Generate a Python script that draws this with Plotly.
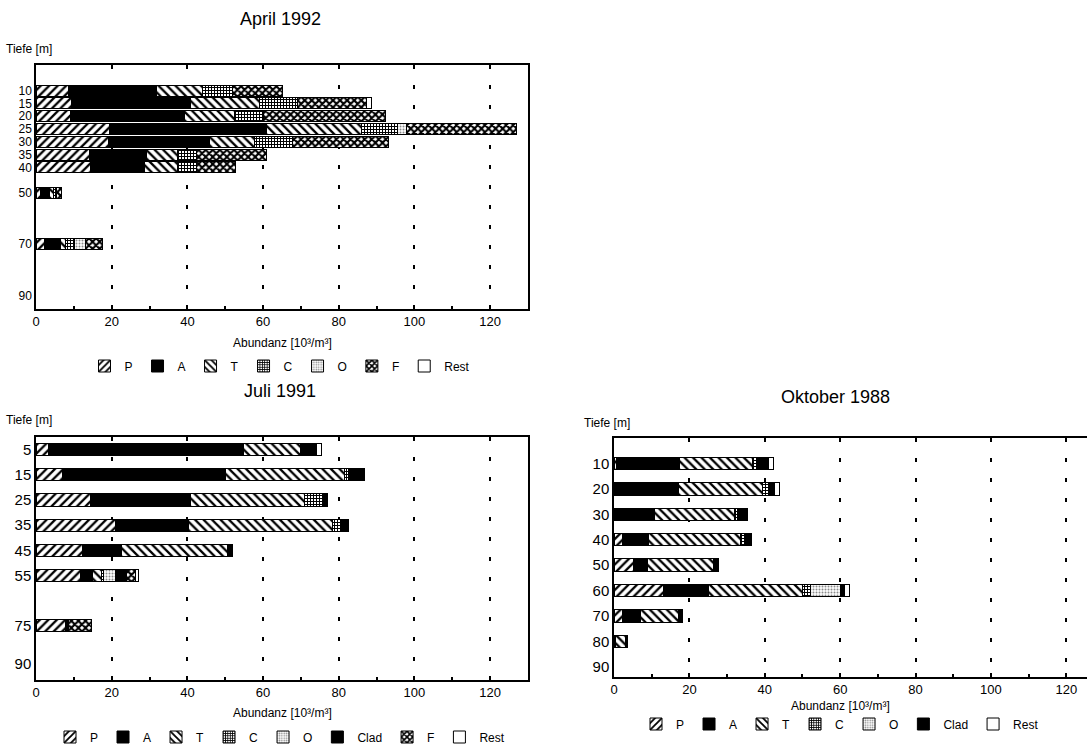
import plotly.graph_objects as go

W, H = 1087, 746
FONT = "Liberation Sans, Arial, Helvetica, sans-serif"

# ---------------- April 1992 (depth in m, abundance in 10^3/m^3) ----------------
apr_depth = [10, 15, 20, 25, 30, 35, 40, 50, 70]
apr_P = [8.6, 9.5, 9.1, 19.5, 19.1, 14.1, 14.5, 1.2, 2.3]
apr_A = [23.2, 31.3, 30.1, 41.5, 26.7, 15.0, 14.1, 2.4, 4.1]
apr_T = [12.3, 18.2, 13.2, 25.0, 11.9, 8.2, 8.7, 1.1, 1.3]
apr_C = [7.7, 10.0, 7.8, 9.6, 10.0, 5.0, 5.0, 0.6, 2.5]
apr_O = [0, 0, 0, 2.3, 0, 0, 0, 0, 3.0]
apr_F = [13.2, 18.3, 32.1, 29.1, 25.5, 18.6, 10.4, 1.5, 4.5]
apr_Rest = [0, 1.4, 0, 0, 0, 0, 0, 0, 0]
apr_ticks = [10, 15, 20, 25, 30, 35, 40, 50, 70, 90]

# ---------------- Juli 1991 ----------------
jul_depth = [5, 15, 25, 35, 45, 55, 75]
jul_P = [3.2, 7.1, 14.4, 20.9, 12.3, 11.8, 7.7]
jul_A = [51.5, 43.1, 26.3, 19.4, 10.2, 3.2, 0.9]
jul_T = [15.3, 31.2, 30.2, 38.1, 28.0, 2.3, 0]
jul_C = [0, 1.3, 5.0, 2.1, 0, 0.5, 0]
jul_O = [0, 0, 0, 0, 0, 3.1, 0]
jul_Clad = [4.1, 4.1, 1.2, 2.0, 1.3, 3.0, 0]
jul_F = [0, 0, 0, 0, 0, 2.5, 6.0]
jul_Rest = [1.4, 0, 0, 0, 0, 0.7, 0]
jul_ticks = [5, 15, 25, 35, 45, 55, 75, 90]

# ---------------- Oktober 1988 ----------------
okt_depth = [10, 20, 30, 40, 50, 60, 70, 80]
okt_P = [0.6, 0.3, 0.3, 2.2, 5.3, 13.0, 2.2, 0.5]
okt_A = [16.9, 16.7, 10.4, 7.0, 3.6, 12.1, 4.9, 0]
okt_T = [19.3, 22.5, 21.2, 24.3, 17.6, 24.8, 9.9, 2.5]
okt_C = [0.9, 1.8, 0.9, 1.5, 0, 2.2, 0, 0]
okt_O = [0, 0, 0, 0, 0, 8.1, 0, 0]
okt_Clad = [3.2, 1.4, 2.5, 1.4, 1.3, 0.9, 1.2, 0.5]
okt_Rest = [1.3, 1.1, 0, 0, 0, 1.5, 0, 0]
okt_ticks = [10, 20, 30, 40, 50, 60, 70, 80, 90]

x_ticks = [0, 20, 40, 60, 80, 100, 120]


def px_x(x):
    return x / W


def px_y(y):
    return 1 - y / H


def marker_for(name):
    line = dict(color="black", width=1)
    if name in ("A", "Clad"):
        return dict(color="black", line=line)
    if name == "Rest":
        return dict(color="white", line=line)
    patterns = {
        "P": dict(shape="/", size=6, solidity=0.38, fgcolor="black"),
        "T": dict(shape="\\", size=6, solidity=0.38, fgcolor="black"),
        "C": dict(shape="+", size=3, solidity=0.55, fgcolor="black"),
        "O": dict(shape=".", size=3, solidity=0.35, fgcolor="#8a8a8a"),
        "F": dict(shape="x", size=5, solidity=0.65, fgcolor="black"),
    }
    pat = patterns[name]
    pat.update(bgcolor="white", fillmode="replace")
    return dict(color="white", pattern=pat, line=line)


fig = go.Figure()


def add_stack(depths, series, xa, ya, legend, width):
    for name, vals in series:
        fig.add_trace(go.Bar(
            y=depths,
            x=[v if v else None for v in vals],
            orientation="h",
            name=name,
            xaxis=xa,
            yaxis=ya,
            legend=legend,
            width=width,
            marker=marker_for(name),
            hoverinfo="name+x",
        ))


add_stack(apr_depth, [("P", apr_P), ("A", apr_A), ("T", apr_T), ("C", apr_C),
                      ("O", apr_O), ("F", apr_F), ("Rest", apr_Rest)],
          "x", "y", "legend", 4.3)
add_stack(jul_depth, [("P", jul_P), ("A", jul_A), ("T", jul_T), ("C", jul_C),
                      ("O", jul_O), ("Clad", jul_Clad), ("F", jul_F), ("Rest", jul_Rest)],
          "x2", "y2", "legend2", 4.8)
add_stack(okt_depth, [("P", okt_P), ("A", okt_A), ("T", okt_T), ("C", okt_C),
                      ("O", okt_O), ("Clad", okt_Clad), ("Rest", okt_Rest)],
          "x3", "y3", "legend3", 4.9)

xcommon = dict(
    tickvals=x_ticks,
    showline=True, linecolor="black", linewidth=1.5,
    ticks="inside", ticklen=4, tickcolor="black", tickwidth=1.5,
    minor=dict(dtick=10, ticks="inside", ticklen=3, tickcolor="black"),
    showgrid=True, gridcolor="black", gridwidth=2, griddash="4px,16px",
    zeroline=False, automargin=False,
    tickfont=dict(size=13, color="black", family=FONT),
    fixedrange=True,
)
ycommon = dict(
    showline=True, linecolor="black", linewidth=1.5,
    showgrid=False, zeroline=False, ticks="", automargin=False,
    tickfont=dict(size=15, color="black", family=FONT),
    fixedrange=True,
)

fig.update_layout(
    width=W, height=H,
    margin=dict(l=0, r=0, t=0, b=0, autoexpand=False),
    paper_bgcolor="white", plot_bgcolor="white",
    barmode="stack",
    font=dict(family=FONT, color="black", size=12),
    xaxis=dict(xcommon, domain=[px_x(36), px_x(528)], range=[0, 130], anchor="y", mirror=True),
    yaxis=dict(ycommon, domain=[px_y(309), px_y(65)], range=[95.3, 0], anchor="x",
               tickvals=apr_ticks, mirror=True,
               tickfont=dict(size=12, color="black", family=FONT)),
    xaxis2=dict(xcommon, domain=[px_x(36), px_x(528)], range=[0, 130], anchor="y2", mirror=True),
    yaxis2=dict(ycommon, domain=[px_y(680), px_y(437)], range=[96.5, 0], anchor="x2",
                tickvals=jul_ticks, mirror=True),
    xaxis3=dict(xcommon, domain=[px_x(614), 1.0], range=[0, 125.5], anchor="y3", mirror=True),
    yaxis3=dict(ycommon, domain=[px_y(677), px_y(438)], range=[94.0, 0], anchor="x3",
                tickvals=okt_ticks, mirror=False),
    showlegend=True,
)

legend_common = dict(orientation="h", xanchor="center", yanchor="middle",
                     traceorder="normal", itemwidth=30, bgcolor="rgba(0,0,0,0)",
                     font=dict(size=12, color="black", family=FONT),
                     itemclick=False, itemdoubleclick=False)
fig.update_layout(
    legend=dict(legend_common, x=px_x(280), y=px_y(366)),
    legend2=dict(legend_common, x=px_x(280), y=px_y(737)),
    legend3=dict(legend_common, x=px_x(840), y=px_y(724)),
)


def text(s, x, y, size, anchor="center"):
    fig.add_annotation(text=s, x=px_x(x), y=px_y(y), xref="paper", yref="paper",
                       xanchor=anchor, yanchor="middle", showarrow=False,
                       font=dict(size=size, color="black", family=FONT))


text("April 1992", 280, 19, 18)
text("Tiefe [m]", 4, 49, 12, "left")
text("Abundanz [10³/m³]", 282, 343, 12)

text("Juli 1991", 280, 391, 18)
text("Tiefe [m]", 4, 420, 12, "left")
text("Abundanz [10³/m³]", 282, 713, 12)

text("Oktober 1988", 835, 397, 18)
text("Tiefe [m]", 582, 423, 12, "left")
text("Abundanz [10³/m³]", 840, 706, 12)

fig.write_html("out.html")
